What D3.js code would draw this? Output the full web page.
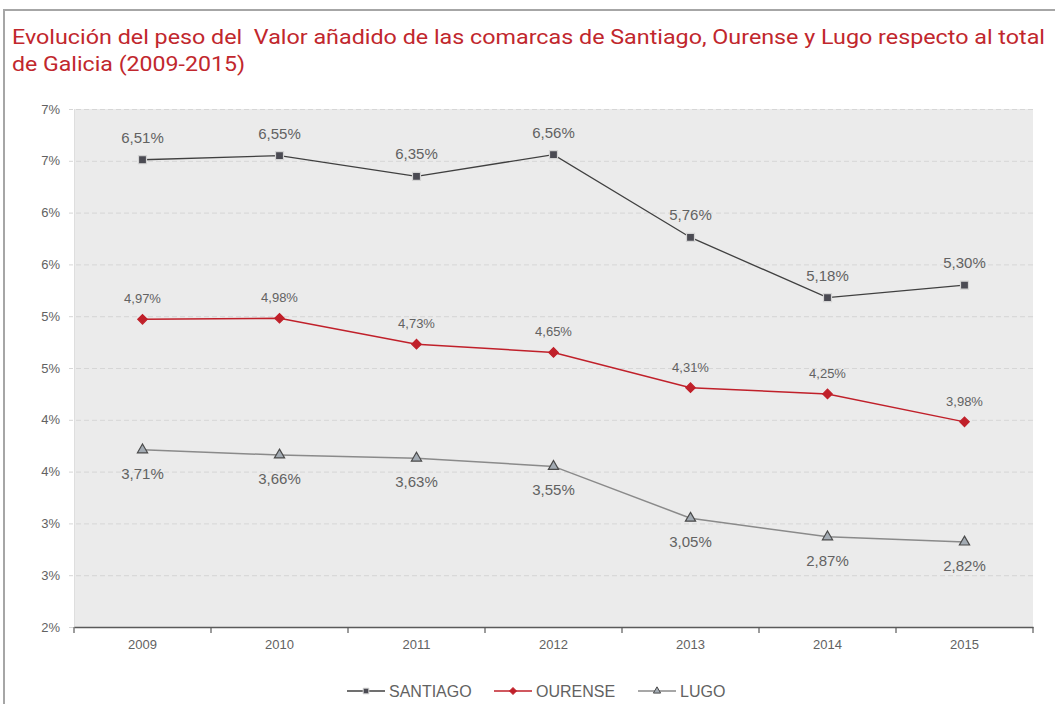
<!DOCTYPE html>
<html>
<head>
<meta charset="utf-8">
<script src="https://cdn.jsdelivr.net/npm/d3@7"></script>
<style>
  body { margin: 0; background: #fff; }
  svg { display: block; }
</style>
</head>
<body>
<script>
// data
var years = ['2009', '2010', '2011', '2012', '2013', '2014', '2015'];
var santiago = [6.51, 6.55, 6.35, 6.56, 5.76, 5.18, 5.30];
var ourense = [4.97, 4.98, 4.73, 4.65, 4.31, 4.25, 3.98];
var lugo = [3.71, 3.66, 3.63, 3.55, 3.05, 2.87, 2.82];
var yTicks = [2, 2.5, 3, 3.5, 4, 4.5, 5, 5.5, 6, 6.5, 7];

var width = 1055, height = 704;
var plotLeft = 74, plotRight = 1033, plotTop = 109, plotBottom = 627;
var textColor = '#626262';
var font = '"Liberation Sans", Arial, sans-serif';

var es = d3.formatLocale({ decimal: ',', thousands: '.', grouping: [3], currency: ['', ' €'] });
var pct = function(d) { return es.format('.2f')(d) + '%'; };

var svg = d3.select('body')
  .append('svg')
  .attr('width', width)
  .attr('height', height)
  .style('font-family', font);

// frame
svg.append('rect')
  .attr('x', 4).attr('y', 10)
  .attr('width', width + 10).attr('height', height + 10)
  .attr('fill', 'none')
  .attr('stroke', '#a6a6a6')
  .attr('stroke-width', 2);

// title (stretched a bit, the original uses a condensed face)
var title = svg.append('text')
  .attr('fill', '#c1272d')
  .attr('font-size', '21px')
  .attr('font-family', 'Roboto, "Liberation Sans", sans-serif')
  .style('white-space', 'pre');
title.append('tspan').attr('x', 12).attr('y', 44)
  .attr('textLength', 1033).attr('lengthAdjust', 'spacingAndGlyphs')
  .text('Evolución del peso del  Valor añadido de las comarcas de Santiago, Ourense y Lugo respecto al total');
title.append('tspan').attr('x', 12).attr('y', 71)
  .attr('textLength', 233).attr('lengthAdjust', 'spacingAndGlyphs')
  .text('de Galicia (2009-2015)');

var x = d3.scaleBand().domain(years).range([plotLeft, plotRight]);
var y = d3.scaleLinear().domain([2, 7]).range([plotBottom, plotTop]);

// plot area
svg.append('rect')
  .attr('x', plotLeft).attr('y', plotTop)
  .attr('width', plotRight - plotLeft).attr('height', plotBottom - plotTop)
  .attr('fill', '#ebebeb');
svg.append('line')
  .attr('x1', plotLeft + 0.5).attr('x2', plotLeft + 0.5)
  .attr('y1', plotTop).attr('y2', plotBottom)
  .attr('stroke', '#dedede');

// y axis + dashed grid
var yAxis = svg.append('g')
  .attr('transform', 'translate(' + plotRight + ',0)')
  .call(d3.axisLeft(y)
    .tickValues(yTicks)
    .tickSize(plotRight - plotLeft + 5)
    .tickPadding(9)
    .tickFormat(function(d) { return Math.round(d) + '%'; }));
yAxis.select('.domain').remove();
yAxis.selectAll('.tick line')
  .attr('stroke', '#d6d6d6')
  .attr('stroke-dasharray', '5,3');
yAxis.selectAll('.tick text')
  .attr('fill', textColor)
  .attr('font-size', '13px')
  .attr('font-family', font);

// x axis
var xAxis = svg.append('g')
  .attr('transform', 'translate(0,' + plotBottom + ')')
  .call(d3.axisBottom(x).tickSize(0).tickPadding(13));
xAxis.select('.domain').attr('stroke', '#5a5a5a').attr('stroke-width', 1.5);
xAxis.selectAll('.tick text')
  .attr('fill', textColor)
  .attr('font-size', '13px')
  .attr('font-family', font);
xAxis.selectAll('line.sep')
  .data(years.concat(['end']))
  .enter()
  .append('line')
  .attr('class', 'sep')
  .attr('x1', function(d, i) { return i < years.length ? x(d) : plotRight; })
  .attr('x2', function(d, i) { return i < years.length ? x(d) : plotRight; })
  .attr('y1', 0).attr('y2', 6)
  .attr('stroke', '#5a5a5a')
  .attr('stroke-width', 1.2);

var cx = function(d, i) { return x(years[i]) + x.bandwidth() / 2; };

var series = [
  { name: 'SANTIAGO', values: santiago, line: '#404040', width: 1.3, shape: d3.symbolSquare, size: 64, rot: 0,
    fill: '#4b4b53', stroke: '#d4d4d4', labelDy: -17, labelSize: 15 },
  { name: 'OURENSE', values: ourense, line: '#c0202a', width: 1.5, shape: d3.symbolSquare, size: 45, rot: 45,
    fill: '#c0202a', stroke: '#c0202a', labelDy: -16, labelSize: 13 },
  { name: 'LUGO', values: lugo, line: '#8a8a8a', width: 1.5, shape: d3.symbolTriangle, size: 45, rot: 0,
    fill: '#a3abb3', stroke: '#4a4a4a', labelDy: 29, labelSize: 15 }
];

var line = d3.line()
  .x(cx)
  .y(function(d) { return y(d); });

series.forEach(function(s) {
  var g = svg.append('g');
  g.append('path')
    .datum(s.values)
    .attr('d', line)
    .attr('fill', 'none')
    .attr('stroke', s.line)
    .attr('stroke-width', s.width);

  g.selectAll('path.marker')
    .data(s.values)
    .enter()
    .append('path')
    .attr('class', 'marker')
    .attr('d', d3.symbol().type(s.shape).size(s.size))
    .attr('transform', function(d, i) {
      return 'translate(' + cx(d, i) + ',' + y(d) + ') rotate(' + s.rot + ')';
    })
    .attr('fill', s.fill)
    .attr('stroke', s.stroke)
    .attr('stroke-width', 1.2);

  g.selectAll('text')
    .data(s.values)
    .enter()
    .append('text')
    .text(pct)
    .attr('x', cx)
    .attr('y', function(d) { return y(d) + s.labelDy; })
    .attr('text-anchor', 'middle')
    .attr('font-size', s.labelSize + 'px')
    .attr('fill', textColor);
});

// legend
var legendX = [347, 494, 638];
var legend = svg.append('g').attr('transform', 'translate(0,691)');
series.forEach(function(s, i) {
  var lg = legend.append('g').attr('transform', 'translate(' + legendX[i] + ',0)');
  lg.append('line')
    .attr('x1', 0).attr('x2', 38)
    .attr('stroke', s.line)
    .attr('stroke-width', s.width);
  lg.append('path')
    .attr('d', d3.symbol().type(s.shape).size(s.size * 0.5))
    .attr('transform', 'translate(19,0) rotate(' + s.rot + ')')
    .attr('fill', s.fill)
    .attr('stroke', s.stroke)
    .attr('stroke-width', 1);
  lg.append('text')
    .attr('x', 42).attr('y', 6)
    .attr('font-size', '16px')
    .attr('fill', textColor)
    .text(s.name);
});
</script>
</body>
</html>
